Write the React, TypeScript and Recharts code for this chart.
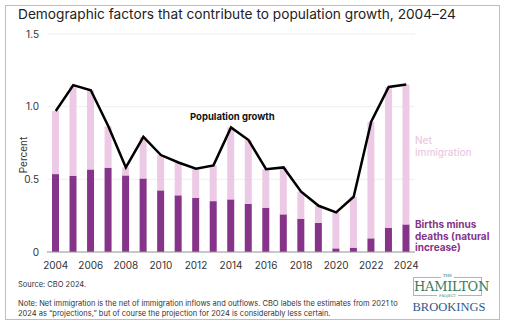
import { Bar, ComposedChart, CartesianGrid, Line, XAxis, YAxis } from "recharts"

const years = [
  "2004", "2005", "2006", "2007", "2008", "2009", "2010", "2011", "2012", "2013", "2014",
  "2015", "2016", "2017", "2018", "2019", "2020", "2021", "2022", "2023", "2024",
]
const naturalIncrease = [
  0.536, 0.525, 0.568, 0.58, 0.527, 0.506, 0.424, 0.39, 0.373, 0.35, 0.362,
  0.332, 0.305, 0.259, 0.229, 0.201, 0.025, 0.03, 0.094, 0.167, 0.19,
]
const netImmigration = [
  0.434, 0.623, 0.545, 0.285, 0.055, 0.286, 0.243, 0.226, 0.2, 0.246, 0.495,
  0.438, 0.265, 0.323, 0.186, 0.117, 0.248, 0.35, 0.802, 0.969, 0.962,
]
const populationGrowth = [
  0.97, 1.148, 1.113, 0.865, 0.582, 0.792, 0.667, 0.616, 0.573, 0.596, 0.857,
  0.77, 0.57, 0.582, 0.415, 0.318, 0.273, 0.38, 0.896, 1.136, 1.152,
]
const yTicks = [0, 0.5, 1.0, 1.5]

const data = years.map((year, i) => ({
  year,
  natural: naturalIncrease[i],
  immigration: netImmigration[i],
  growth: populationGrowth[i],
}))

const FONT = "Inter, 'Noto Sans', sans-serif"
const DARK = "#86338a"
const LIGHT = "#ecc9e4"

export default function App() {
  return (
    <div
      style={{
        position: "absolute",
        left: 0,
        top: 0,
        width: 505,
        height: 328,
        background: "#fff",
        fontFamily: FONT,
        overflow: "hidden",
      }}
    >
      <div
        style={{
          position: "absolute",
          left: 5,
          top: 5,
          width: 495,
          height: 315,
          border: "1px solid #a9c3dc",
          boxSizing: "border-box",
        }}
      />
      <div style={{ position: "absolute", left: 18, top: 6, fontSize: 13.7, color: "#222", whiteSpace: "nowrap" }}>
        Demographic factors that contribute to population growth, 2004–24
      </div>
      <div
        style={{
          position: "absolute",
          left: 23,
          top: 155,
          fontSize: 10,
          color: "#333",
          transform: "translate(-50%, -50%) rotate(-90deg)",
        }}
      >
        Percent
      </div>

      <div style={{ position: "absolute", left: 0, top: 0 }}>
        <ComposedChart width={505} height={328} data={data} margin={{ top: 34, right: 90, bottom: 46, left: 0 }}>
          <CartesianGrid vertical={false} stroke="#efefef" />
          <XAxis
            dataKey="year"
            interval={1}
            tickLine={false}
            axisLine={{ stroke: "#999" }}
            tick={{ fill: "#333", fontSize: 10, fontFamily: FONT }}
            dy={2}
          />
          <YAxis
            width={47}
            domain={[0, 1.5]}
            ticks={yTicks}
            tickFormatter={(v: number) => (v === 0 ? "0" : v.toFixed(1))}
            tickLine={false}
            axisLine={false}
            tick={{ fill: "#333", fontSize: 10, fontFamily: FONT }}
          />
          <Bar dataKey="natural" stackId="a" fill={DARK} barSize={7} isAnimationActive={false} />
          <Bar dataKey="immigration" stackId="a" fill={LIGHT} barSize={7} isAnimationActive={false} />
          <Line
            type="linear"
            dataKey="growth"
            stroke="#000"
            strokeWidth={2.5}
            dot={false}
            isAnimationActive={false}
          />
        </ComposedChart>
      </div>

      <div style={{ position: "absolute", left: 190, top: 111, fontSize: 9.5, fontWeight: 700, color: "#111", whiteSpace: "nowrap" }}>
        Population growth
      </div>
      <div style={{ position: "absolute", left: 415, top: 134, fontSize: 10, color: LIGHT, lineHeight: "12px", fontWeight: 500 }}>
        Net
        <br />
        immigration
      </div>
      <div style={{ position: "absolute", left: 415, top: 219, fontSize: 10, color: DARK, lineHeight: "11.5px", fontWeight: 700 }}>
        Births minus
        <br />
        deaths (natural
        <br />
        increase)
      </div>

      <div style={{ position: "absolute", left: 18, top: 280, fontSize: 7.5, color: "#333" }}>Source: CBO 2024.</div>
      <div style={{ position: "absolute", left: 18, top: 299, fontSize: 7.5, color: "#333", lineHeight: "9.5px", width: 390 }}>
        Note: Net immigration is the net of immigration inflows and outflows. CBO labels the estimates from 2021 to
        <br />
        2024 as “projections,” but of course the projection for 2024 is considerably less certain.
      </div>

      <div
        style={{
          position: "absolute",
          left: 413,
          top: 277,
          width: 69,
          height: 19,
          border: "1px solid #9bc49b",
          boxSizing: "border-box",
          textAlign: "center",
          fontFamily: "'DejaVu Serif', 'Liberation Serif', serif",
          color: "#3e7a5e",
        }}
      >
        <div style={{ position: "absolute", left: 0, right: 0, top: -5, fontSize: 4 }}>
          <span style={{ background: "#fff", padding: "0 2px" }}>THE</span>
        </div>
        <div style={{ fontSize: 13, lineHeight: "17px", letterSpacing: -0.3 }}>HAMILTON</div>
        <div style={{ position: "absolute", left: 0, right: 0, bottom: -3, fontSize: 3.5 }}>
          <span style={{ background: "#fff", padding: "0 2px" }}>PROJECT</span>
        </div>
      </div>
      <div
        style={{
          position: "absolute",
          left: 410,
          top: 300,
          width: 78,
          fontSize: 12.5,
          color: "#2f5a8c",
          fontFamily: "'Liberation Serif', 'DejaVu Serif', serif",
          textAlign: "center",
        }}
      >
        BROOKINGS
      </div>
    </div>
  )
}
